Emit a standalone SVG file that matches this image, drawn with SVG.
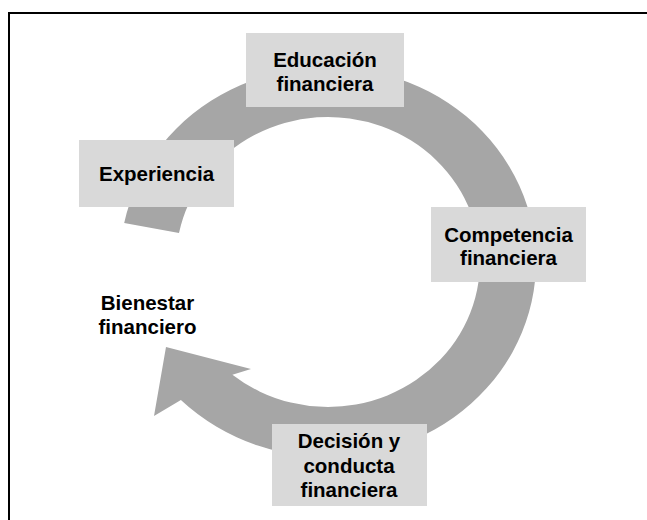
<svg xmlns="http://www.w3.org/2000/svg" width="647" height="520" viewBox="0 0 647 520">
  <style>
    .box { fill: #d9d9d9; }
    .lbl { font-family: "Liberation Sans", Arial, sans-serif; font-weight: bold; font-size: 20.5px; fill: #000; text-anchor: middle; }
    .ring { fill: #a6a6a6; }
  </style>
  <rect width="647" height="520" fill="#fff"/>
  <!-- frame -->
  <rect x="9" y="13" width="700" height="600" fill="none" stroke="#000" stroke-width="2"/>

  <!-- cycle arrow -->
  <g id="connectors">
    <path class="ring" d="M 124.2,223.1 A 208 195 0 1 1 180.9,399.9 L 154,416 L 166,347 L 251,369 L 232.4,374.7 A 152 145 0 1 0 179,233.1 Z"/>
  </g>

  <g id="educacion">
    <rect class="box" x="246" y="33" width="158" height="74"/>
    <text class="lbl" x="325" y="67">Educación</text>
    <text class="lbl" x="325" y="90.5">financiera</text>
  </g>

  <g id="experiencia">
    <rect class="box" x="79" y="140" width="155" height="67"/>
    <text class="lbl" x="156.5" y="181">Experiencia</text>
  </g>

  <g id="competencia">
    <rect class="box" x="431" y="207" width="155" height="75"/>
    <text class="lbl" x="508.5" y="241.5">Competencia</text>
    <text class="lbl" x="508.5" y="264.5">financiera</text>
  </g>

  <g id="decision">
    <rect class="box" x="272" y="424" width="155" height="82"/>
    <text class="lbl" x="349" y="447.5">Decisión y</text>
    <text class="lbl" x="349" y="472.5">conducta</text>
    <text class="lbl" x="349" y="496.5">financiera</text>
  </g>

  <g id="bienestar">
    <text class="lbl" x="147.5" y="310">Bienestar</text>
    <text class="lbl" x="147.5" y="334">financiero</text>
  </g>
</svg>
